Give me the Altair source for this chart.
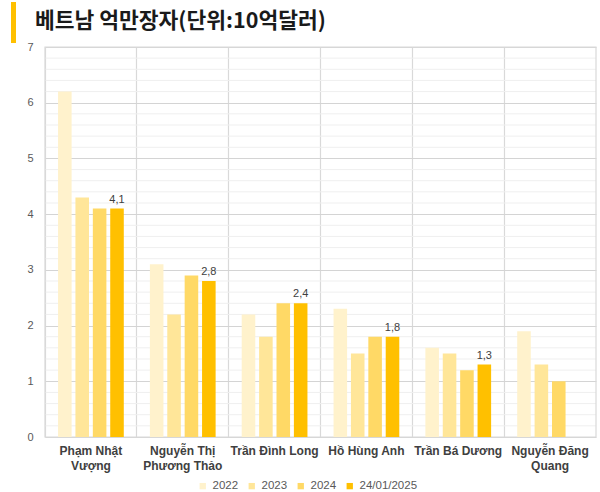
import altair as alt
import pandas as pd

names = ["Phạm Nhật Vượng", "Nguyễn Thị Phương Thảo", "Trần Đình Long",
         "Hồ Hùng Anh", "Trần Bá Dương", "Nguyễn Đăng Quang"]
label_lines = {
    "Phạm Nhật Vượng": ["Phạm Nhật", "Vượng"],
    "Nguyễn Thị Phương Thảo": ["Nguyễn Thị", "Phương Thảo"],
    "Trần Đình Long": ["Trần Đình Long"],
    "Hồ Hùng Anh": ["Hồ Hùng Anh"],
    "Trần Bá Dương": ["Trần Bá Dương"],
    "Nguyễn Đăng Quang": ["Nguyễn Đăng", "Quang"],
}
series = ["2022", "2023", "2024", "24/01/2025"]
v2022 = [6.2, 3.1, 2.2, 2.3, 1.6, 1.9]
v2023 = [4.3, 2.2, 1.8, 1.5, 1.5, 1.3]
v2024 = [4.1, 2.9, 2.4, 1.8, 1.2, 1.0]
v2025 = [4.1, 2.8, 2.4, 1.8, 1.3, None]
colors = ["#FFF2CC", "#FFE699", "#FFD966", "#FFC000"]
y_ticks = [0, 1, 2, 3, 4, 5, 6, 7]
minor_ticks = [0.2, 0.4, 0.6, 0.8, 1.2, 1.4, 1.6, 1.8, 2.2, 2.4, 2.6, 2.8,
               3.2, 3.4, 3.6, 3.8, 4.2, 4.4, 4.6, 4.8, 5.2, 5.4, 5.6, 5.8,
               6.2, 6.4, 6.6, 6.8]

rows = []
for s, vals in zip(series, [v2022, v2023, v2024, v2025]):
    for n, v in zip(names, vals):
        if v is not None:
            rows.append({"name": n, "series": s, "value": v,
                         "label": (f"{v:.1f}".replace(".", ",") if s == "24/01/2025" else "")})
df = pd.DataFrame(rows)

label_map = "{" + ",".join(
    f"'{k}': [" + ",".join(f"'{l}'" for l in v) + "]" for k, v in label_lines.items()) + "}"

yscale = alt.Scale(domain=[0, 7], nice=False)
yaxis = alt.Axis(values=y_ticks, labelOverlap=False,
                 labelFont="Liberation Sans", labelFontSize=11,
                 labelColor="#595959", labelPadding=12,
                 ticks=False, domain=False, gridColor="#d4d4d4", gridWidth=1)

minor = alt.Chart(pd.DataFrame({"v": minor_ticks})).mark_rule(
    color="#efefef", strokeWidth=1
).encode(y=alt.Y("v:Q", scale=yscale, axis=yaxis, title=None))

base = alt.Chart(df)

bars = base.mark_bar().encode(
    x=alt.X("name:N", sort=names, title=None,
            scale=alt.Scale(paddingInner=0, paddingOuter=0),
            axis=alt.Axis(labelExpr=f"{label_map}[datum.value]", labelAngle=0,
                          labelFont="Liberation Sans", labelFontWeight="bold",
                          labelFontSize=12, labelColor="#404040", labelPadding=8,
                          labelLineHeight=15,
                          ticks=False, domain=False, grid=True, bandPosition=0,
                          gridColor="#d9d9d9", gridWidth=1.2)),
    xOffset=alt.XOffset("series:N", sort=series,
                        scale=alt.Scale(paddingInner=0.22, paddingOuter=0.75)),
    y=alt.Y("value:Q", title=None, scale=yscale, axis=yaxis),
    color=alt.Color("series:N", sort=series,
                    scale=alt.Scale(domain=series, range=colors),
                    legend=alt.Legend(orient="none", legendX=152, legendY=433,
                                      title=None, direction="horizontal",
                                      symbolType="square", symbolSize=40, symbolStrokeWidth=0,
                                      labelFont="Liberation Sans", labelFontSize=11.5,
                                      labelColor="#595959", columnPadding=7,
                                      labelOffset=4)),
)

texts = base.mark_text(dy=-9, fontSize=11, font="Liberation Sans", color="#404040").encode(
    x=alt.X("name:N", sort=names),
    xOffset=alt.XOffset("series:N", sort=series),
    y=alt.Y("value:Q", scale=yscale, axis=yaxis, title=None),
    text="label:N",
)

frame = alt.Chart(pd.DataFrame({"a": [0]})).mark_rect(
    fill=None, stroke="#d9d9d9", strokeWidth=1.2
).encode(x=alt.value(0), x2=alt.value(551), y=alt.value(0), y2=alt.value(390))

title = alt.Chart(pd.DataFrame({"t": ["베트남 억만장자(단위:10억달러)"]})).mark_text(
    align="left", baseline="middle", fontSize=21.5, fontWeight="bold",
    font="Noto Sans CJK KR", color="#1a1a1a"
).encode(x=alt.value(-10), y=alt.value(-25), text="t:N")

accent = alt.Chart(pd.DataFrame({"a": [0]})).mark_rule(
    color="#FFC000", strokeWidth=5
).encode(x=alt.value(-31.5), y=alt.value(-45), y2=alt.value(-4))

chart = alt.layer(minor, frame, bars, texts, title, accent).properties(
    width=551, height=390,
    padding={"left": 45, "top": 47, "right": 4, "bottom": 55},
    autosize=alt.AutoSizeParams(type="none"),
    background="white",
).configure_view(stroke=None)

chart.save("out.html", embed_options={"renderer": "svg", "actions": False})
